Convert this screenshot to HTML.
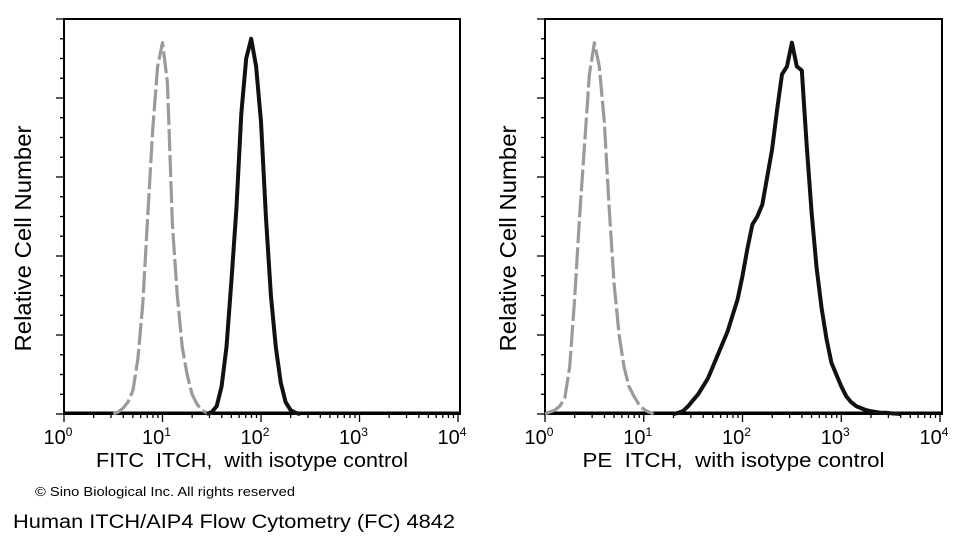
<!DOCTYPE html>
<html><head><meta charset="utf-8"><style>
html,body{margin:0;padding:0;background:#fff;}
svg{display:block;font-family:"Liberation Sans",Arial,sans-serif;}
.pre{white-space:pre;}
</style></head><body>
<svg id="chart" width="960" height="543" viewBox="0 0 960 543">
<text x="35" y="496" font-size="13" fill="#000" textLength="260" lengthAdjust="spacingAndGlyphs">© Sino Biological Inc. All rights reserved</text>
<text x="13" y="528" font-size="19" fill="#000" textLength="442" lengthAdjust="spacingAndGlyphs">Human ITCH/AIP4 Flow Cytometry (FC) 4842</text>
</svg>
<script>
// Left panel (FITC) data: log10 positions and relative counts
const leftGrayLog = [0.5,0.55,0.6,0.65,0.7,0.75,0.8,0.85,0.9,0.95,1.0,1.05,1.1,1.15,1.2,1.25,1.3,1.35,1.4,1.45,1.5];
const leftGrayVal = [0,0.5,1.5,3,6,14,28,50,72,88,94,84,48,30,17,10,5,2.5,1,0.3,0];
const leftBlackLog = [1.45,1.5,1.55,1.6,1.65,1.7,1.75,1.8,1.85,1.9,1.95,2.0,2.05,2.1,2.15,2.2,2.25,2.3,2.35,2.4];
const leftBlackVal = [0,0.5,2,7,17,34,52,76,90,95,88,74,50,30,17,8,3,1,0.3,0];
// Right panel (PE) data
const rightGrayLog = [0,0.05,0.1,0.15,0.2,0.25,0.3,0.35,0.4,0.45,0.5,0.55,0.6,0.65,0.7,0.75,0.8,0.85,0.9,0.95,1.0,1.05,1.1];
const rightGrayVal = [0,0.5,1,2,4,12,29,50,68,86,94,88,74,52,33,20,12,7,4.5,2.5,1.2,0.5,0];
const rightBlackLog = [1.3,1.35,1.4,1.45,1.5,1.55,1.6,1.65,1.7,1.75,1.8,1.85,1.9,1.95,2.0,2.05,2.1,2.15,2.2,2.25,2.3,2.35,2.4,2.45,2.5,2.55,2.6,2.65,2.7,2.75,2.8,2.85,2.9,2.95,3.0,3.05,3.1,3.15,3.2,3.25,3.3,3.35,3.4,3.45,3.5,3.55,3.6];
const rightBlackVal = [0,0.3,0.8,2,3.5,5,7,9,12,15,18,21,25,29,35,42,48,50,53,60,67,77,86,88,94,88,87,68,51,37,27,19,13,10,7,4.5,3,2,1.5,1,0.7,0.5,0.3,0.3,0.2,0.1,0];
const xTickLabels = ["0","1","2","3","4"];
const yMax = 100;

const NS = "http://www.w3.org/2000/svg";
const svg = document.getElementById("chart");
function mk(tag, attrs, parent){
  const e = document.createElementNS(NS, tag);
  for (const k in attrs) e.setAttribute(k, attrs[k]);
  (parent||svg).appendChild(e);
  return e;
}
function panel(id, x0, x1, top, bottom, grayLog, grayVal, blackLog, blackVal, xlabel, ytitleX, xlW){
  const g = mk("g", {});
  
  
  const dec = (x1 - x0) / 4.02;
  const xs = v => x0 + v * dec;
  const ys = v => bottom - v / yMax * (bottom - top);
  const fr = mk("rect", {x:x0, y:top, width:x1-x0, height:bottom-top, fill:"none", stroke:"#000", "stroke-width":2}, g);
  
  
  for (let i=0;i<=20;i++){
    const y = bottom - i*(bottom-top)/20;
    const len = (i%4===0)?8:4;
    mk("line",{x1:x0-len,x2:x0,y1:y,y2:y,stroke:"#000","stroke-width":1.3},g);
  }
  for (let d=0; d<4; d++){
    for (let m=1; m<=9; m++){
      const x = xs(d + Math.log10(m));
      mk("line",{x1:x,x2:x,y1:bottom,y2:bottom+(m===1?8:4),stroke:"#000","stroke-width":1.3},g);
    }
  }
  mk("line",{x1:xs(4),x2:xs(4),y1:bottom,y2:bottom+8,stroke:"#000","stroke-width":1.3},g);
  xTickLabels.forEach((t,i)=>{
    const tx = mk("text",{x:xs(i)-6,y:bottom+30,"font-size":20,"text-anchor":"middle",fill:"#000"},g);
    
    
    tx.textContent = "10";
    const sup = mk("tspan",{dy:-8,"font-size":12},tx);
    sup.textContent = t;
  });
  const xl = mk("text",{x:(x0+x1)/2-10,y:bottom+53,"font-size":20,"text-anchor":"middle",fill:"#000",class:"pre",textLength:xlW,lengthAdjust:"spacingAndGlyphs"},g);
  
  
  xl.textContent = xlabel;
  const yl = mk("text",{x:0,y:0,"font-size":23,"text-anchor":"middle",fill:"#000",textLength:226,lengthAdjust:"spacingAndGlyphs",transform:`translate(${ytitleX},${(top+bottom)/2+22}) rotate(-90)`},g);
  
  
  yl.textContent = "Relative Cell Number";
  mk("line",{x1:x0,x2:x1,y1:bottom-1,y2:bottom-1,stroke:"#000","stroke-width":3},g);
  const gp = grayLog.map((l,i)=>xs(l).toFixed(1)+","+ys(grayVal[i]).toFixed(1)).join(" ");
  const gl = mk("polyline",{points:gp,fill:"none",stroke:"#9a9a9a","stroke-width":3.2,"stroke-dasharray":"22 4","stroke-linejoin":"round"},g);
  
  
  const bp = blackLog.map((l,i)=>xs(l).toFixed(1)+","+ys(blackVal[i]).toFixed(1)).join(" ");
  const bl = mk("polyline",{points:bp,fill:"none",stroke:"#111","stroke-width":4,"stroke-linejoin":"round"},g);
  
  
}
panel("fitc", 64, 460, 19, 414, leftGrayLog, leftGrayVal, leftBlackLog, leftBlackVal, "FITC  ITCH,  with isotype control", 31, 312);
panel("pe", 545, 942, 19, 414, rightGrayLog, rightGrayVal, rightBlackLog, rightBlackVal, "PE  ITCH,  with isotype control", 516, 302);
</script>
</body></html>
